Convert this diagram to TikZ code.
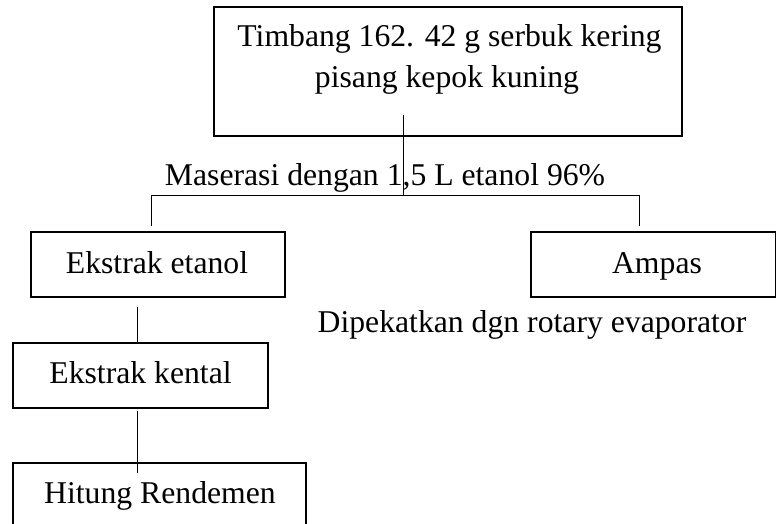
\documentclass[tikz,border=0pt]{standalone}
\usepackage{fontspec}
\setmainfont{Liberation Serif}
\begin{document}
\begin{tikzpicture}[x=0.5pt,y=-0.5pt,
  box/.style={draw, line width=0.75pt, rectangle, inner sep=0pt},
  txt/.style={anchor=base, inner sep=0pt, font=\fontsize{15.85}{20}\selectfont},
  conn/.style={line width=0.5pt}]
\useasboundingbox (0,0) rectangle (776,524);
\clip (0,0) rectangle (776,524);
% boxes
\node[box, minimum width=234pt, minimum height=64.5pt] (top) at (448,71.5) {};
\node[box, minimum width=127pt, minimum height=32.5pt] (etanol) at (158,264.5) {};
\node[box, minimum width=122.25pt, minimum height=32.5pt] (ampas) at (653.25,264.5) {};
\node[box, minimum width=127.5pt, minimum height=32.5pt] (kental) at (140.5,375.5) {};
\node[box, minimum width=146.5pt, minimum height=48.5pt] (hitung) at (159.5,511.5) {};
% texts
\node[txt] (t1) at (449.5,47) {Timbang 162. 42 g serbuk kering};
\node[txt] (t2) at (447,88) {pisang kepok kuning};
\node[txt] (mas) at (385,185) {Maserasi dengan 1,5 L etanol 96\%};
\node[txt] (tetanol) at (157,273) {Ekstrak etanol};
\node[txt] (tampas) at (657,273) {Ampas};
\node[txt] (dip) at (532,332) {Dipekatkan dgn rotary evaporator};
\node[txt] (tkental) at (140.5,383) {Ekstrak kental};
\node[txt] (thitung) at (160,503) {Hitung Rendemen};
% connectors
\coordinate (c0) at (403,115);
\coordinate (j) at (403,195);
\coordinate (jl) at (151,195);
\coordinate (jr) at (639,195);
\coordinate (dl) at (151,226);
\coordinate (dr) at (639,226);
\draw[conn] (c0) -- (j);
\draw[conn] (dl) -- (jl) -- (jr) -- (dr);
\coordinate (e0) at (137,307);
\draw[conn] (e0) -- (e0 |- kental.north);
\coordinate (k0) at (137,411);
\coordinate (h0) at (137,473);
\draw[conn] (k0) -- (h0);
\end{tikzpicture}
\end{document}
